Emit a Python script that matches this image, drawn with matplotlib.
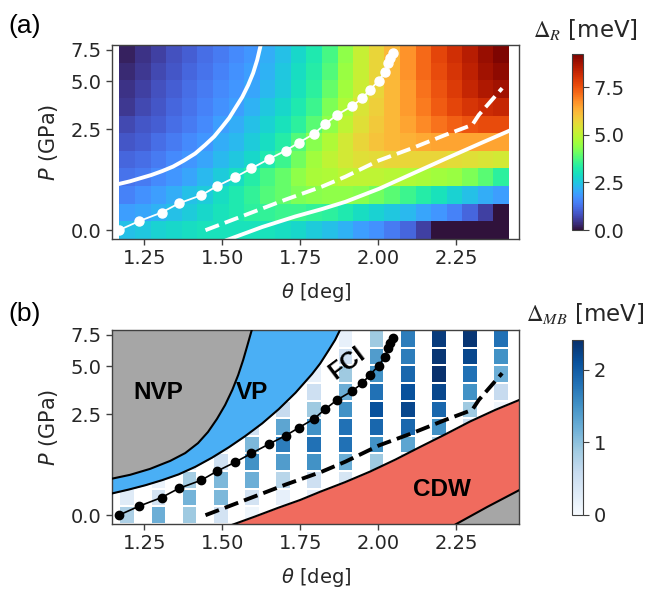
import numpy as np
import matplotlib.pyplot as plt
from matplotlib.ticker import FixedLocator, FormatStrFormatter, NullLocator

# ---------------- data ----------------
# twist angle grid (deg) and pressure rows (GPa), bottom row first
theta = [1.195, 1.245, 1.295, 1.345, 1.395, 1.445, 1.495, 1.545, 1.595, 1.645,
         1.695, 1.745, 1.795, 1.845, 1.895, 1.945, 1.995, 2.045, 2.095, 2.145,
         2.195, 2.245, 2.295, 2.345, 2.395]
p_rows = [0.0, 0.27, 0.60, 0.99, 1.46, 2.02, 2.70, 3.52, 4.51, 5.70, 7.12]

# Delta_R [meV], rows bottom -> top, columns follow theta
delta_r = [
    [2.4, 2.5, 2.7, 2.8, 2.9, 3.0, 3.0, 3.0, 3.0, 3.0, 2.9, 2.8, 2.6, 2.4, 2.2, 1.9, 1.7, 1.4, 1.1, 0.6, 0.0, 0.0, 0.0, 0.0, 0.0],
    [1.9, 2.0, 2.2, 2.4, 2.6, 2.8, 3.0, 3.2, 3.4, 3.5, 3.6, 3.6, 3.5, 3.4, 3.2, 2.9, 2.7, 2.5, 2.3, 2.0, 1.8, 1.5, 1.1, 0.6, 0.0],
    [1.5, 1.7, 1.9, 2.1, 2.4, 2.6, 2.9, 3.2, 3.5, 3.8, 4.0, 4.2, 4.3, 4.4, 4.4, 4.3, 4.1, 3.9, 3.6, 3.3, 3.0, 2.7, 2.4, 2.1, 1.9],
    [1.3, 1.4, 1.6, 1.8, 2.0, 2.3, 2.6, 2.9, 3.3, 3.7, 4.0, 4.4, 4.7, 4.8, 5.0, 5.0, 5.0, 4.9, 4.8, 4.7, 4.6, 4.5, 4.2, 3.9, 3.4],
    [1.1, 1.2, 1.4, 1.6, 1.8, 2.0, 2.3, 2.5, 2.8, 3.2, 3.6, 4.1, 4.6, 5.0, 5.3, 5.5, 5.6, 5.7, 5.7, 5.7, 5.7, 5.6, 5.5, 5.4, 5.3],
    [0.9, 1.0, 1.2, 1.4, 1.6, 1.8, 2.1, 2.3, 2.6, 2.9, 3.3, 3.8, 4.3, 4.8, 5.3, 5.7, 6.0, 6.2, 6.3, 6.4, 6.5, 6.5, 6.5, 6.5, 6.5],
    [0.7, 0.9, 1.0, 1.2, 1.4, 1.6, 1.9, 2.1, 2.4, 2.7, 3.0, 3.4, 3.9, 4.4, 5.0, 5.5, 5.9, 6.2, 6.5, 6.8, 7.1, 7.3, 7.5, 7.6, 7.6],
    [0.5, 0.7, 0.9, 1.1, 1.3, 1.5, 1.7, 1.9, 2.2, 2.5, 2.8, 3.2, 3.6, 4.2, 4.8, 5.4, 5.8, 6.2, 6.6, 7.0, 7.4, 7.7, 8.0, 8.2, 8.3],
    [0.4, 0.6, 0.8, 1.0, 1.2, 1.4, 1.6, 1.8, 2.0, 2.3, 2.6, 3.0, 3.4, 4.0, 4.6, 5.2, 5.7, 6.2, 6.6, 7.1, 7.5, 7.9, 8.3, 8.6, 8.8],
    [0.3, 0.5, 0.7, 0.9, 1.1, 1.3, 1.5, 1.7, 1.9, 2.2, 2.5, 2.9, 3.3, 3.8, 4.5, 5.1, 5.7, 6.2, 6.7, 7.2, 7.6, 8.0, 8.4, 8.8, 9.0],
    [0.2, 0.4, 0.6, 0.8, 1.0, 1.2, 1.4, 1.6, 1.8, 2.1, 2.4, 2.8, 3.2, 3.7, 4.4, 5.1, 5.7, 6.2, 6.7, 7.2, 7.7, 8.1, 8.5, 8.9, 9.2],
]

# Delta_MB [meV] on every second theta column (nan = no data)
nan = np.nan
delta_mb = [
    [0.8, 1.2, 0.9, 0.45, 0.1, 0.02, 0.0, 0.0, nan, nan, nan, nan, nan],
    [0.3, 0.45, 1.15, 1.1, 0.45, 0.2, 0.2, 0.05, 0.05, nan, nan, nan, nan],
    [nan, 0.15, 0.85, 1.1, 1.2, 0.7, 0.5, 0.4, 0.3, 0.1, nan, nan, nan],
    [nan, nan, 0.25, 0.5, 1.5, 1.4, 1.5, 1.2, 0.9, 0.5, 0.2, nan, nan],
    [nan, nan, nan, 0.15, 1.1, 1.7, 1.8, 1.8, 1.5, 1.3, 0.8, 0.1, nan],
    [nan, nan, nan, 0.05, 0.5, 1.3, 1.5, 1.8, 1.9, 1.9, 1.5, 0.5, 0.05],
    [nan, nan, nan, nan, 0.15, 0.6, 0.9, 1.5, 2.1, 2.2, 1.9, 0.9, 0.1],
    [nan, nan, nan, nan, nan, 0.15, 0.5, 1.2, 1.8, 2.1, 2.2, 1.5, 0.6],
    [nan, nan, nan, nan, nan, nan, 0.2, 0.9, 1.5, 1.9, 2.4, 1.8, 1.2],
    [nan, nan, nan, nan, nan, nan, nan, 0.5, 1.4, 1.7, 2.35, 2.2, 1.5],
    [nan, nan, nan, nan, nan, nan, nan, 0.2, 0.9, 1.7, 2.3, 2.35, 1.8],
]

# phase boundaries and guide lines (theta [deg], P [GPa])
fci_theta = [1.168, 1.232, 1.305, 1.360, 1.433, 1.483, 1.542, 1.593, 1.649, 1.703, 1.746,
             1.794, 1.831, 1.868, 1.917, 1.949, 1.973, 2.002, 2.022, 2.032, 2.039, 2.048]
fci_p = [0.0, 0.13, 0.27, 0.43, 0.59, 0.78, 0.99, 1.21, 1.47, 1.73, 2.0,
         2.32, 2.72, 3.12, 3.56, 3.97, 4.45, 5.05, 5.68, 6.32, 6.73, 7.17]

dash_theta = [1.446, 1.574, 1.702, 1.820, 1.895, 2.002, 2.109, 2.216, 2.302, 2.323, 2.398]
dash_p = [0.0, 0.23, 0.50, 0.77, 1.0, 1.43, 1.81, 2.28, 2.68, 3.12, 4.56]

a_up_theta = [1.147, 1.169, 1.204, 1.236, 1.272, 1.307, 1.342, 1.377, 1.413, 1.445, 1.474,
              1.499, 1.522, 1.544, 1.564, 1.583, 1.599, 1.612, 1.621, 1.625]
a_up_p = [0.79, 0.83, 0.89, 0.96, 1.04, 1.14, 1.26, 1.43, 1.64, 1.92, 2.22,
          2.59, 2.98, 3.51, 4.04, 4.76, 5.58, 6.59, 7.65, 8.2]

a_low_theta = [1.515, 1.628, 1.734, 1.820, 1.895, 2.002, 2.109, 2.216, 2.323, 2.430, 2.455]
a_low_p = [-0.13, 0.045, 0.205, 0.33, 0.46, 0.72, 1.07, 1.48, 1.95, 2.49, 2.63]

nvp_theta = [1.146, 1.204, 1.268, 1.333, 1.381, 1.422, 1.454, 1.483, 1.509, 1.532, 1.551,
             1.567, 1.580, 1.597]
nvp_p = [0.62, 0.70, 0.83, 1.02, 1.22, 1.50, 1.85, 2.32, 2.89, 3.61, 4.45,
         5.44, 6.51, 8.2]

vp_theta = [1.146, 1.200, 1.253, 1.307, 1.360, 1.414, 1.467, 1.521, 1.574, 1.628, 1.681,
            1.735, 1.788, 1.814, 1.842, 1.862, 1.882]
vp_p = [0.34, 0.41, 0.49, 0.59, 0.71, 0.88, 1.10, 1.38, 1.72, 2.15, 2.71,
        3.47, 4.51, 5.19, 6.19, 7.02, 8.2]

cdw_theta = [1.530, 1.604, 1.681, 1.750, 1.814, 1.894, 1.974, 2.055, 2.135, 2.215,
             2.295, 2.376, 2.453]
cdw_p = [-0.13, -0.02, 0.11, 0.23, 0.37, 0.55, 0.77, 1.05, 1.39, 1.77,
         2.22, 2.68, 3.12]

corner_theta = [2.245, 2.350, 2.453]
corner_p = [-0.13, 0.12, 0.40]

# ---------------- scale for the pressure axis ----------------
A_P, B_P = 1.329, 0.185


def p_fwd(p):
    p = np.asarray(p, dtype=float)
    return np.log1p(np.maximum(p / A_P, -0.99)) / B_P


def p_inv(k):
    return A_P * np.expm1(B_P * np.asarray(k, dtype=float))


def edges(c):
    c = np.asarray(c, dtype=float)
    m = (c[:-1] + c[1:]) / 2
    return np.concatenate([[2 * c[0] - m[0]], m, [2 * c[-1] - m[-1]]])


theta_e = edges(theta)
p_e = p_inv(edges(p_fwd(p_rows)))
p_lo, p_hi = p_e[0], p_e[-1]
xlim = (1.147, 2.453)

plt.rcParams['font.family'] = ['DejaVu Sans']
TXT = '#262626'
SPINE = '#404040'

fig = plt.figure(figsize=(6.49, 5.93), dpi=100)
W, H = 649, 593
ax_a = fig.add_axes([112.3 / W, 1 - 239 / H, 407 / W, 194 / H])
ax_b = fig.add_axes([112.3 / W, 1 - 524 / H, 407 / W, 194 / H])
cax_a = fig.add_axes([572 / W, 1 - 230 / H, 11 / W, 176 / H])
cax_b = fig.add_axes([572 / W, 1 - 515 / H, 11 / W, 175 / H])


def style_axis(ax):
    ax.set_yscale('function', functions=(p_fwd, p_inv))
    ax.set_xlim(*xlim)
    ax.set_ylim(p_lo, p_hi)
    ax.xaxis.set_major_locator(FixedLocator([1.25, 1.5, 1.75, 2.0, 2.25]))
    ax.xaxis.set_major_formatter(FormatStrFormatter('%.2f'))
    ax.yaxis.set_major_locator(FixedLocator([0.0, 2.5, 5.0, 7.5]))
    ax.yaxis.set_major_formatter(FormatStrFormatter('%.1f'))
    ax.yaxis.set_minor_locator(NullLocator())
    ax.xaxis.set_minor_locator(NullLocator())
    ax.tick_params(labelsize=14, colors=SPINE, labelcolor=TXT, length=4, width=1)
    for s in ax.spines.values():
        s.set_color(SPINE)
        s.set_linewidth(1)
    ax.set_xlabel(r'$\theta$ [deg]', fontsize=14, color=TXT, labelpad=9)
    ax.set_ylabel(r'$P$ (GPa)', fontsize=15, color=TXT, labelpad=8)


# ---------------- panel (a) ----------------
style_axis(ax_a)
im_a = ax_a.pcolormesh(theta_e, p_e, np.array(delta_r), cmap='turbo', vmin=0, vmax=9.25)
ax_a.plot(a_up_theta, a_up_p, color='white', lw=2.8, solid_joinstyle='round')
ax_a.plot(a_low_theta, a_low_p, color='white', lw=2.8, solid_joinstyle='round')
ax_a.plot(dash_theta, dash_p, color='white', lw=2.8, ls='--')
ax_a.plot(fci_theta, fci_p, color='white', lw=1.3, marker='o', ms=6.5, mec='white')

cb_a = fig.colorbar(im_a, cax=cax_a, ticks=[0, 2.5, 5.0, 7.5])
cb_a.ax.yaxis.set_major_formatter(FormatStrFormatter('%.1f'))
cb_a.ax.tick_params(labelsize=14, colors=SPINE, labelcolor=TXT, length=4)
cb_a.outline.set_edgecolor(SPINE)
fig.text(585 / W, 1 - 29 / H, r'$\Delta_R$ [meV]', fontsize=16.5, color=TXT,
         ha='center', va='center', math_fontfamily='stix')

# ---------------- panel (b) ----------------
style_axis(ax_b)
mb_full = np.full((len(p_rows), len(theta)), np.nan)
mb_full[:, ::2] = np.array(delta_mb)
im_b = ax_b.pcolormesh(theta_e, p_e, np.ma.masked_invalid(mb_full), cmap='Blues',
                       vmin=0, vmax=2.41, edgecolors='white', linewidth=1.2, zorder=1)

gray = '#a6a6a6'
blue = '#4aaff5'
red = '#f06b5e'
ax_b.fill_between(vp_theta, vp_p, 9, color=blue, lw=0, zorder=2)
ax_b.fill_between(nvp_theta, nvp_p, 9, color=gray, lw=0, zorder=2)
ax_b.fill_between(cdw_theta + [2.6], [-1] * (len(cdw_theta) + 1), cdw_p + [4.0],
                  color=red, lw=0, zorder=2)
ax_b.fill_between(corner_theta + [2.6], [-1] * (len(corner_theta) + 1), corner_p + [0.6],
                  color=gray, lw=0, zorder=2)
for tx, py in [(vp_theta, vp_p), (nvp_theta, nvp_p), (cdw_theta, cdw_p),
               (corner_theta, corner_p)]:
    ax_b.plot(tx, py, color='black', lw=1.5, zorder=3, solid_joinstyle='round')
ax_b.plot(dash_theta, dash_p, color='black', lw=2.8, ls='--', zorder=3)
ax_b.plot(fci_theta, fci_p, color='black', lw=1.2, marker='o', ms=6, zorder=4)

bold = dict(family=['Liberation Sans', 'DejaVu Sans'], fontweight='bold', fontsize=17.5,
            color='black', ha='center', va='center', zorder=5)
ax_b.text(1.296, 3.47, 'NVP', **bold)
ax_b.text(1.596, 3.47, 'VP', **bold)
ax_b.text(1.900, 5.24, 'FCI', rotation=37, **bold)
ax_b.text(2.205, 0.41, 'CDW', **bold)

cb_b = fig.colorbar(im_b, cax=cax_b, ticks=[0, 1, 2])
cb_b.ax.tick_params(labelsize=14, colors=SPINE, labelcolor=TXT, length=4)
cb_b.outline.set_edgecolor(SPINE)
fig.text(585 / W, 1 - 314 / H, r'$\Delta_{MB}$ [meV]', fontsize=16.5, color=TXT,
         ha='center', va='center', math_fontfamily='stix')

fig.text(25 / W, 1 - 25.5 / H, '(a)', fontsize=19, family=['Liberation Sans'],
         ha='center', va='center')
fig.text(25 / W, 1 - 314.5 / H, '(b)', fontsize=19, family=['Liberation Sans'],
         ha='center', va='center')

fig.savefig('out.png', dpi=100)
